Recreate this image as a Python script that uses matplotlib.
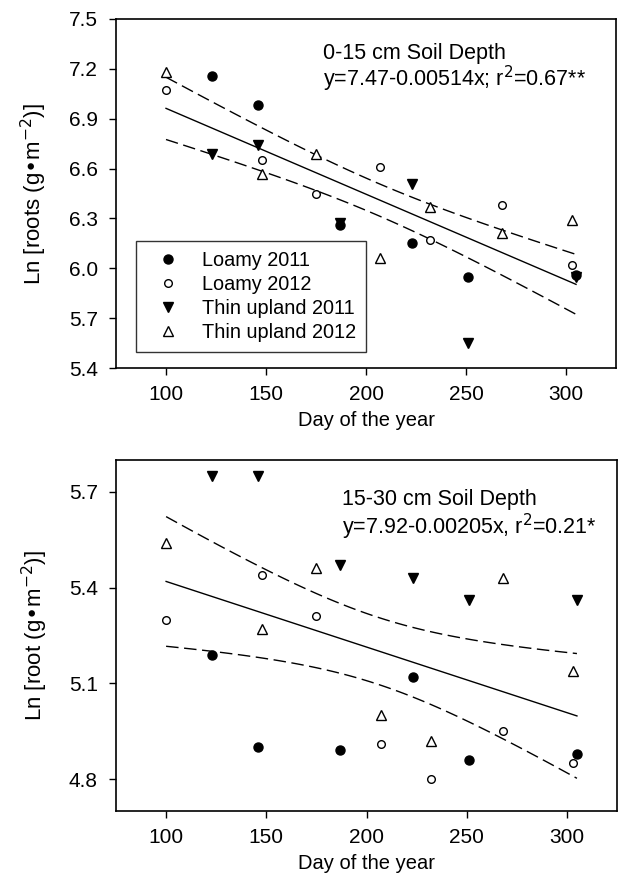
import numpy as np
import matplotlib
matplotlib.use("Agg")
import matplotlib.pyplot as plt

plt.rcParams['font.family'] = ['Liberation Sans', 'DejaVu Sans']

# sampling days
days_2011 = [123, 146, 187, 223, 251, 305]
days_2012 = [100, 148, 175, 207, 232, 268, 303]

# 0-15 cm soil depth, Ln root mass
top_loamy_2011 = [7.16, 6.98, 6.26, 6.15, 5.95, 5.96]
top_loamy_2012 = [7.07, 6.65, 6.45, 6.61, 6.17, 6.38, 6.02]
top_thin_2011 = [6.69, 6.74, 6.27, 6.51, 5.55, 5.95]
top_thin_2012 = [7.18, 6.57, 6.69, 6.06, 6.37, 6.21, 6.29]

# 15-30 cm soil depth
bot_loamy_2011 = [5.19, 4.90, 4.89, 5.12, 4.86, 4.88]
bot_loamy_2012 = [5.30, 5.44, 5.31, 4.91, 4.80, 4.95, 4.85]
bot_thin_2011 = [5.75, 5.75, 5.47, 5.43, 5.36, 5.36]
bot_thin_2012 = [5.54, 5.27, 5.46, 5.00, 4.92, 5.43, 5.14]

series_labels = ['Loamy 2011', 'Loamy 2012', 'Thin upland 2011', 'Thin upland 2012']
top_text = '0-15 cm Soil Depth\ny=7.47-0.00514x; r$^2$=0.67**'
bot_text = '15-30 cm Soil Depth\ny=7.92-0.00205x, r$^2$=0.21*'


def draw_panel(ax, loamy11, loamy12, thin11, thin12, ylim, yticks, text, text_pos, spacing, ylabel, legend):
    ms = 6.5
    ax.plot(days_2011, loamy11, 'o', color='black', ms=ms, label=series_labels[0], zorder=3)
    ax.plot(days_2012, loamy12, 'o', mfc='white', mec='black', ms=ms - 1, mew=1, label=series_labels[1], zorder=3)
    ax.plot(days_2011, thin11, 'v', color='black', ms=ms, label=series_labels[2], zorder=3)
    ax.plot(days_2012, thin12, '^', mfc='white', mec='black', ms=ms, mew=1, label=series_labels[3], zorder=3)

    # pooled linear regression with 95% confidence band
    x = np.array(days_2011 * 2 + days_2012 * 2, dtype=float)
    y = np.array(loamy11 + thin11 + loamy12 + thin12)
    b, a = np.polyfit(x, y, 1)
    n = len(x)
    resid = y - (a + b * x)
    s = np.sqrt(np.sum(resid ** 2) / (n - 2))
    xbar = x.mean()
    sxx = np.sum((x - xbar) ** 2)
    xs = np.linspace(100, 305, 100)
    fit = a + b * xs
    half = 2.06 * s * np.sqrt(1.0 / n + (xs - xbar) ** 2 / sxx)
    ax.plot(xs, fit, '-', color='black', lw=1)
    ax.plot(xs, fit + half, color='black', lw=1, dashes=(9, 4))
    ax.plot(xs, fit - half, color='black', lw=1, dashes=(9, 4))

    ax.set_xlim(75, 325)
    ax.set_ylim(*ylim)
    ax.set_xticks([100, 150, 200, 250, 300])
    ax.set_yticks(yticks)
    ax.set_yticklabels(['%.1f' % t for t in yticks])
    ax.tick_params(labelsize=15, length=5, width=1, direction='out', top=False, right=False)
    ax.tick_params(axis='x', pad=7)
    ax.tick_params(axis='y', pad=8)
    for sp in ax.spines.values():
        sp.set_linewidth(1.2)
    ax.set_xlabel('Day of the year', fontsize=14.5, labelpad=5)
    ax.set_ylabel(ylabel, fontsize=16, labelpad=14)
    ax.text(text_pos[0], text_pos[1], text, transform=ax.transAxes, fontsize=15.5,
            va='top', ha='left', linespacing=spacing)
    if legend:
        leg = ax.legend(loc='lower left', bbox_to_anchor=(0.04, 0.047), fontsize=14.3,
                        frameon=True, fancybox=False, borderpad=0.5, handletextpad=0.6,
                        labelspacing=0.25, borderaxespad=0, handlelength=2.2)
        leg.get_frame().set_edgecolor('black')
        leg.get_frame().set_linewidth(1)


fig = plt.figure(figsize=(6.22, 8.92), dpi=100)
ax1 = fig.add_axes([0.1865, 0.5874, 0.8039, 0.3913])
ax2 = fig.add_axes([0.1865, 0.0908, 0.8055, 0.3935])

draw_panel(ax1, top_loamy_2011, top_loamy_2012, top_thin_2011, top_thin_2012,
           (5.4, 7.5), [5.4, 5.7, 6.0, 6.3, 6.6, 6.9, 7.2, 7.5], top_text, (0.414, 0.93), 0.95,
           'Ln [roots (g\u2022m$^{-2}$)]', True)
draw_panel(ax2, bot_loamy_2011, bot_loamy_2012, bot_thin_2011, bot_thin_2012,
           (4.7, 5.8), [4.8, 5.1, 5.4, 5.7], bot_text, (0.452, 0.918), 1.08,
           'Ln [root (g\u2022m$^{-2}$)]', False)

fig.savefig('out.png', dpi=100)
